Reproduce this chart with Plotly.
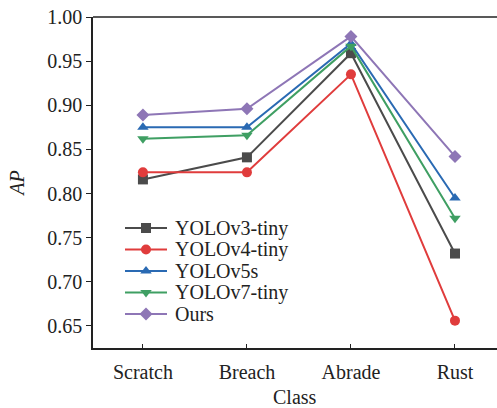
import plotly.graph_objects as go

classes = ["Scratch", "Breach", "Abrade", "Rust"]
yolov3_tiny = [0.816, 0.841, 0.959, 0.732]
yolov4_tiny = [0.824, 0.824, 0.935, 0.656]
yolov5s = [0.875, 0.875, 0.970, 0.795]
yolov7_tiny = [0.862, 0.866, 0.967, 0.772]
ours = [0.889, 0.896, 0.978, 0.842]

series = [
    ("YOLOv3-tiny", yolov3_tiny, "#4b4b4b", "square"),
    ("YOLOv4-tiny", yolov4_tiny, "#e03c3c", "circle"),
    ("YOLOv5s", yolov5s, "#2a6ab3", "triangle-up"),
    ("YOLOv7-tiny", yolov7_tiny, "#3f9f63", "triangle-down"),
    ("Ours", ours, "#8e76b6", "diamond"),
]

W, H = 497, 408
ML, MR, MT, MB = 93, 0, 17, 60
PW, PH = W - ML - MR, H - MT - MB

# legend layout (pixel units inside the plot area, origin bottom-left)
LEG_X0, LEG_X1, LEG_TXT = 32, 74, 80
LEG_Y0, LEG_DY = 120, 21.5

font = "Liberation Serif, Times New Roman, serif"
FS = 20
fig = go.Figure()
annotations = []
for i, (name, vals, color, sym) in enumerate(series):
    fig.add_trace(go.Scatter(
        x=list(range(len(classes))), y=vals, name=name, mode="lines+markers",
        line=dict(color=color, width=2),
        marker=dict(symbol=sym, size=10, color=color),
        showlegend=False,
    ))
    ly = LEG_Y0 - i * LEG_DY
    # legend sample line + marker
    fig.add_trace(go.Scatter(
        x=[LEG_X0, LEG_X1], y=[ly, ly], mode="lines",
        line=dict(color=color, width=2), xaxis="x2", yaxis="y2",
        showlegend=False, hoverinfo="skip",
    ))
    fig.add_trace(go.Scatter(
        x=[(LEG_X0 + LEG_X1) / 2], y=[ly], mode="markers",
        marker=dict(symbol=sym, size=10, color=color), xaxis="x2", yaxis="y2",
        showlegend=False, hoverinfo="skip",
    ))
    annotations.append(dict(x=LEG_TXT, y=ly, xref="x2", yref="y2", text=name,
                            showarrow=False, xanchor="left", yanchor="middle",
                            font=dict(size=FS, family=font, color="#222")))

# x-axis title as annotation (placed below the axis line)
annotations.append(dict(x=0.5, y=-49 / PH, xref="paper", yref="paper", text="Class",
                        showarrow=False, xanchor="center", yanchor="middle", borderpad=0,
                        font=dict(size=FS, family=font, color="#222")))

fig.update_layout(
    width=W, height=H,
    margin=dict(l=ML, r=MR, t=MT, b=MB),
    paper_bgcolor="white", plot_bgcolor="white",
    font=dict(family=font, size=FS, color="#222"),
    showlegend=False,
    annotations=annotations,
    xaxis=dict(
        tickmode="array", tickvals=list(range(len(classes))), ticktext=classes,
        range=[-0.48, 3.404], showgrid=False, zeroline=False, automargin=False,
        showline=True, linecolor="#222", linewidth=1.5,
        ticks="inside", ticklen=4, tickcolor="#222", ticklabelstandoff=5,
    ),
    yaxis=dict(
        range=[0.625, 1.0], tickvals=[0.65, 0.70, 0.75, 0.80, 0.85, 0.90, 0.95, 1.00],
        tickformat=".2f", showgrid=False, zeroline=False, automargin=False,
        showline=True, linecolor="#222", linewidth=1.5,
        ticks="outside", ticklen=5, tickcolor="#222",
        title=dict(text="<i>AP</i>", standoff=17, font=dict(size=FS)),
    ),
    xaxis2=dict(overlaying="x", range=[0, PW], visible=False, fixedrange=True),
    yaxis2=dict(overlaying="y", range=[0, PH], visible=False, fixedrange=True),
    shapes=[dict(type="line", xref="paper", yref="paper", x0=0, x1=1, y0=1, y1=1,
                 line=dict(color="#222", width=1.5))],
)

fig.write_html("out.html")
